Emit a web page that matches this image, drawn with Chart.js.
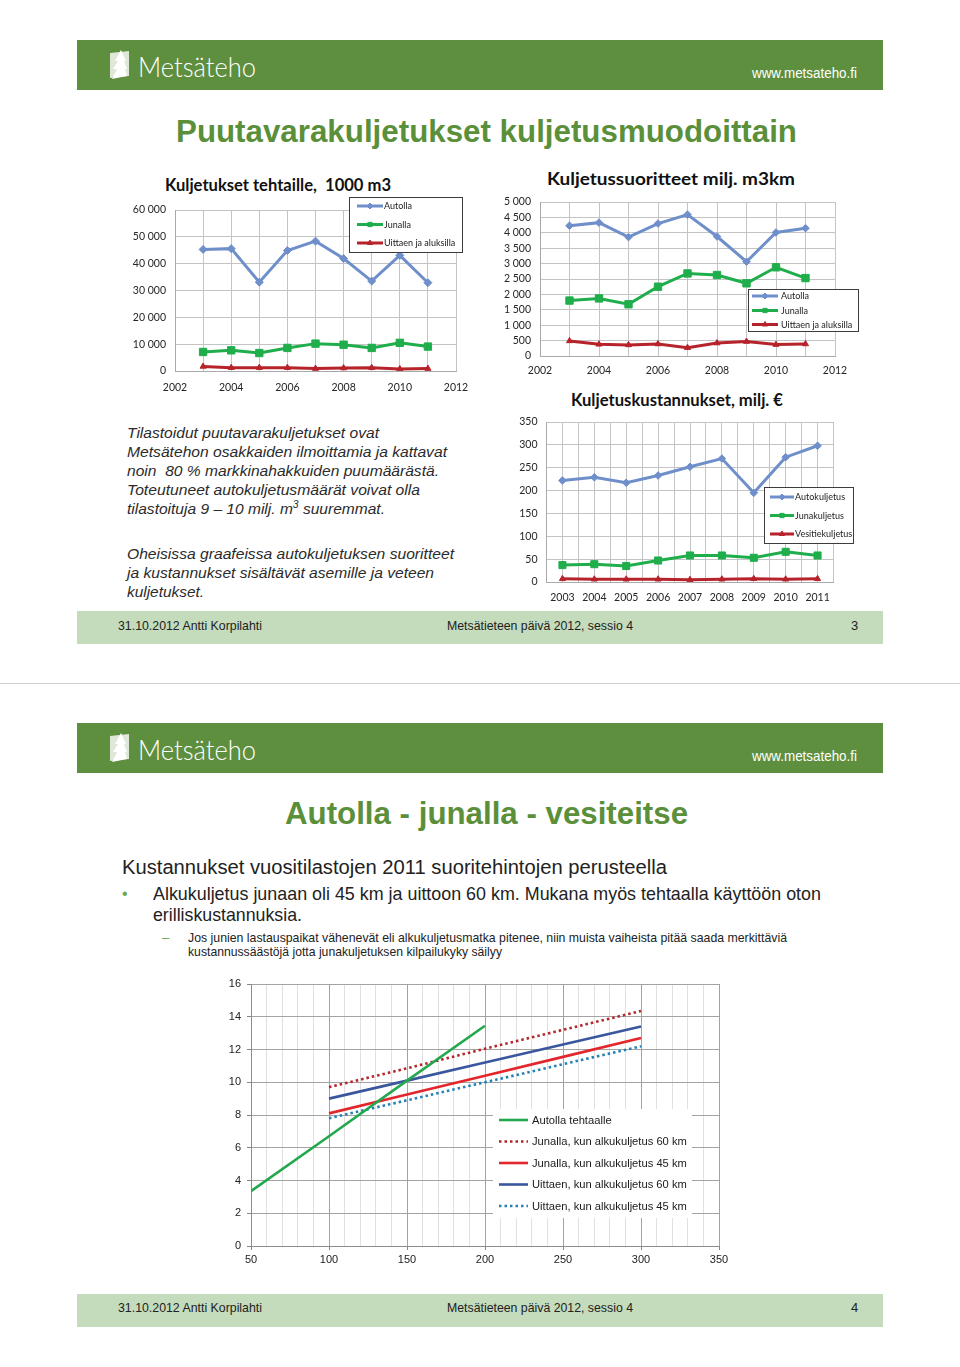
<!DOCTYPE html>
<html lang="fi">
<head>
<meta charset="utf-8">
<title>Puutavarakuljetukset kuljetusmuodoittain</title>
<script src="https://cdn.jsdelivr.net/npm/chart.js@4.4.1/dist/chart.umd.min.js"></script>
<style>
  html, body { margin: 0; padding: 0; background: #fff; }
  #page { position: relative; width: 960px; height: 1367px; overflow: hidden; font-family: "Liberation Sans", Arial, sans-serif; }
  .abs { position: absolute; }
  .t { position: absolute; white-space: nowrap; line-height: 1; transform-origin: 0 50%; }
  .hdr { position: absolute; left: 77px; width: 806px; height: 50px; background: #5e8f3f; }
  .ftr { position: absolute; left: 77px; width: 806px; height: 33px; background: #c4dbbc; }
  .narrow { font-family: "Liberation Sans Narrow", "Liberation Sans", Arial, sans-serif; }
  .url { color: #fff; font-size: 14px; }
  .logo { color: #fff; font-size: 28px; font-family: "Lato", "Liberation Sans", sans-serif; font-weight: 300; }
  .title { color: #5b8f3a; font-size: 31px; font-weight: bold; }
  .ctitle { font-family: "Lato", "Open Sans", sans-serif; font-weight: bold; font-size: 16.5px; color: #111; }
  .para { font-style: italic; font-size: 15px; color: #2b2b2b; }
  .foot { font-size: 13px; color: #222; }
  .sep { position: absolute; left: 0; width: 960px; height: 1px; background: #cfcfcf; }
  canvas { position: absolute; }
</style>
</head>
<body>
<div id="page">

  <!-- dia 3 -->
  <div class="hdr" style="top:40px"></div>
  <svg class="abs" style="left:107px;top:49px" width="26" height="31" viewBox="0 0 26 31">
    <polygon points="3,4 22,2 22,27 3,29" fill="#dfe7d9"/>
    <polygon points="14,1 8,12 11,12 6,20 10,20 5,30 20,27 18,20 20,20 17,12 19,12" fill="#ffffff"/>
  </svg>
  <div class="t logo" data-w="118" style="left:138px;top:52px">Metsäteho</div>
  <div class="t url narrow" data-w="105" style="left:752px;top:66px">www.metsateho.fi</div>
  <div class="t title" data-w="621" style="left:176px;top:115.5px">Puutavarakuljetukset kuljetusmuodoittain</div>

  <div class="t ctitle" data-w="226" style="left:165px;top:176.5px">Kuljetukset tehtaille,&nbsp; 1000 m3</div>
  <div class="t ctitle" data-w="248" style="left:547px;top:171px">Kuljetussuoritteet milj. m3km</div>
  <div class="t ctitle" data-w="212" style="left:571px;top:391.5px">Kuljetuskustannukset, milj. €</div>

  <canvas id="c1" style="left:120px;top:195px" width="360" height="205"></canvas>
  <canvas id="c2" style="left:490px;top:190px" width="375" height="190"></canvas>
  <canvas id="c3" style="left:500px;top:410px" width="360" height="200"></canvas>

  <div class="t para" data-w="252" style="left:127px;top:424.5px">Tilastoidut puutavarakuljetukset ovat</div>
  <div class="t para" data-w="320" style="left:127px;top:443.5px">Metsätehon osakkaiden ilmoittamia ja kattavat</div>
  <div class="t para" data-w="312" style="left:127px;top:462.5px">noin&nbsp; 80 % markkinahakkuiden puumäärästä.</div>
  <div class="t para" data-w="293" style="left:127px;top:481.5px">Toteutuneet autokuljetusmäärät voivat olla</div>
  <div class="t para" data-w="258" style="left:127px;top:500.5px">tilastoituja 9 – 10 milj. m<sup style="font-size:10px;line-height:0">3</sup> suuremmat.</div>
  <div class="t para" data-w="327" style="left:127px;top:545.5px">Oheisissa graafeissa autokuljetuksen suoritteet</div>
  <div class="t para" data-w="307" style="left:127px;top:564.5px">ja kustannukset sisältävät asemille ja veteen</div>
  <div class="t para" data-w="77" style="left:127px;top:583.5px">kuljetukset.</div>

  <div class="ftr" style="top:611px"></div>
  <div class="t foot narrow" data-w="144" style="left:118px;top:618.5px">31.10.2012 Antti Korpilahti</div>
  <div class="t foot narrow" data-w="186" style="left:447px;top:618.5px">Metsätieteen päivä 2012, sessio 4</div>
  <div class="t foot narrow" style="left:851px;top:618.5px">3</div>

  <div class="sep" style="top:683px"></div>

  <!-- dia 4 -->
  <div class="hdr" style="top:723px"></div>
  <svg class="abs" style="left:107px;top:732px" width="26" height="31" viewBox="0 0 26 31">
    <polygon points="3,4 22,2 22,27 3,29" fill="#dfe7d9"/>
    <polygon points="14,1 8,12 11,12 6,20 10,20 5,30 20,27 18,20 20,20 17,12 19,12" fill="#ffffff"/>
  </svg>
  <div class="t logo" data-w="118" style="left:138px;top:735px">Metsäteho</div>
  <div class="t url narrow" data-w="105" style="left:752px;top:749px">www.metsateho.fi</div>
  <div class="t title" data-w="403" style="left:285px;top:797.5px">Autolla - junalla - vesiteitse</div>

  <div class="t narrow" data-w="545" style="left:122px;top:857px;font-size:20px;color:#222">Kustannukset vuositilastojen 2011 suoritehintojen perusteella</div>
  <div class="t" style="left:122px;top:886px;font-size:16px;color:#6aa84f">•</div>
  <div class="t narrow" data-w="668" style="left:153px;top:885px;font-size:18.5px;color:#222">Alkukuljetus junaan oli 45 km ja uittoon 60 km. Mukana myös tehtaalla käyttöön oton</div>
  <div class="t narrow" data-w="149" style="left:153px;top:906px;font-size:18.5px;color:#222">erilliskustannuksia.</div>
  <div class="t" style="left:162px;top:930.5px;font-size:13px;color:#6aa84f">–</div>
  <div class="t narrow" data-w="599" style="left:188px;top:930.5px;font-size:13px;color:#222">Jos junien lastauspaikat vähenevät eli alkukuljetusmatka pitenee, niin muista vaiheista pitää saada merkittäviä</div>
  <div class="t narrow" data-w="314" style="left:188px;top:944.5px;font-size:13px;color:#222">kustannussäästöjä jotta junakuljetuksen kilpailukyky säilyy</div>

  <canvas id="c4" style="left:215px;top:975px" width="520" height="295"></canvas>

  <div class="ftr" style="top:1294px"></div>
  <div class="t foot narrow" data-w="144" style="left:118px;top:1300.5px">31.10.2012 Antti Korpilahti</div>
  <div class="t foot narrow" data-w="186" style="left:447px;top:1300.5px">Metsätieteen päivä 2012, sessio 4</div>
  <div class="t foot narrow" style="left:851px;top:1300.5px">4</div>
</div>

<script>
// --- data ---
const years = [2003, 2004, 2005, 2006, 2007, 2008, 2009, 2010, 2011];

// Kuljetukset tehtaille, 1000 m3
const tehtailleAutolla = [45300, 45600, 33100, 44900, 48400, 41900, 33500, 43100, 32900];
const tehtailleJunalla = [7100, 7700, 6700, 8600, 10200, 9800, 8600, 10500, 9100];
const tehtailleUittaen = [1700, 1250, 1250, 1250, 900, 1100, 1200, 750, 900];

// Kuljetussuoritteet milj. m3km
const suoritteetAutolla = [4230, 4330, 3860, 4300, 4590, 3880, 3060, 4010, 4150];
const suoritteetJunalla = [1800, 1870, 1680, 2250, 2680, 2630, 2360, 2880, 2530];
const suoritteetUittaen = [490, 380, 360, 390, 270, 420, 470, 370, 390];

// Kuljetuskustannukset, milj. €
const kustannusAuto = [222, 229, 217, 233, 252, 270, 195, 273, 298];
const kustannusJuna = [37, 39, 35, 47, 58, 58, 53, 66, 58];
const kustannusVesi = [7, 6, 6, 6, 5, 6, 7, 6, 7];

// Autolla - junalla - vesiteitse (km -> €/m3)
const autoKm = [50, 100, 150, 200];
const autoTehtaalle = [3.35, 6.7, 10.1, 13.45];
const rataKm = [100, 150, 200, 250, 300];
const junalla60 = [9.7, 10.85, 12.05, 13.2, 14.35];
const junalla45 = [8.1, 9.25, 10.4, 11.55, 12.7];
const uittaen60 = [9.0, 10.1, 11.2, 12.3, 13.4];
const uittaen45 = [7.8, 8.9, 10.0, 11.1, 12.2];

// --- värit ---
const BLUE = "#6f8fcb", GREEN = "#1fae4b", RED = "#b7232b";
const CAL = "Lato, 'Open Sans', sans-serif";

function spaced(v) {
  return String(v).replace(/\B(?=(\d{3})+(?!\d))/g, " ");
}

function xy(xs, ys) {
  return xs.map((x, i) => ({ x: x, y: ys[i] }));
}

function series(label, xs, ys, color, style, r) {
  return {
    label: label, data: xy(xs, ys),
    borderColor: color, backgroundColor: color,
    borderWidth: 3, pointStyle: style, pointRadius: r, pointHoverRadius: r,
    pointBorderWidth: 1, tension: 0
  };
}

// legenda laatikossa piirtoalueen sisällä
const boxLegend = {
  id: "boxLegend",
  afterDraw(chart, args, o) {
    if (!o || !o.box) return;
    const ctx = chart.ctx, b = o.box;
    ctx.save();
    ctx.fillStyle = "#fff";
    ctx.fillRect(b.x, b.y, b.w, b.h);
    if (o.border) {
      ctx.strokeStyle = o.border;
      ctx.lineWidth = 1;
      ctx.strokeRect(b.x + 0.5, b.y + 0.5, b.w - 1, b.h - 1);
    }
    chart.data.datasets.forEach((ds, i) => {
      const y = o.rows[i];
      ctx.setLineDash(ds.borderDash || []);
      ctx.strokeStyle = ds.borderColor;
      ctx.lineWidth = o.lineWidth || ds.borderWidth;
      ctx.beginPath();
      ctx.moveTo(o.lineX, y);
      ctx.lineTo(o.lineX + o.lineW, y);
      ctx.stroke();
      ctx.setLineDash([]);
      if (ds.pointRadius) {
        ctx.fillStyle = ds.backgroundColor;
        ctx.lineWidth = 1;
        Chart.helpers.drawPoint(ctx, { pointStyle: ds.pointStyle, radius: o.markR, borderWidth: 1, rotation: 0 }, o.lineX + o.lineW / 2, y);
      }
      ctx.fillStyle = o.color || "#222";
      ctx.font = o.font;
      ctx.textBaseline = "middle";
      ctx.fillText(ds.label, o.textX, y + 0.5);
    });
    ctx.restore();
  }
};
Chart.register(boxLegend);

function fixScale(w, h) {
  return function (s) {
    if (w != null) s.width = w;
    if (h != null) s.height = h;
    s.paddingLeft = 0; s.paddingRight = 0; s.paddingTop = 0; s.paddingBottom = 0;
  };
}

function yearChart(id, ds, opts) {
  const ox = opts.ox, oy = opts.oy;
  return new Chart(document.getElementById(id), {
    type: "line",
    data: { datasets: ds },
    options: {
      responsive: false, animation: false,
      layout: { padding: opts.pad },
      plugins: {
        legend: { display: false }, tooltip: { enabled: false },
        boxLegend: {
          box: { x: opts.lg.x - ox, y: opts.lg.y - oy, w: opts.lg.w, h: opts.lg.h },
          border: "#3c3c3c", rows: opts.lg.rows.map(r => r - oy),
          lineX: opts.lg.lineX - ox, lineW: opts.lg.lineW, textX: opts.lg.textX - ox,
          markR: 3, lineWidth: 3, font: "9px " + CAL, color: "#222"
        }
      },
      scales: {
        x: {
          type: "linear", min: opts.xmin, max: opts.xmax,
          ticks: {
            stepSize: opts.xstep, autoSkip: false, maxRotation: 0, padding: opts.xpad,
            font: { family: CAL, size: 10.5 }, color: "#262626",
            callback: opts.xlabel
          },
          grid: { color: "#c4c4c4", drawTicks: false, lineWidth: 1 },
          border: { color: "#a9a9a9" },
          afterFit: fixScale(null, opts.xh)
        },
        y: {
          min: 0, max: opts.ymax,
          ticks: {
            stepSize: opts.ystep, padding: 9, autoSkip: false,
            font: { family: CAL, size: 10.5 }, color: "#262626",
            callback: v => spaced(v)
          },
          grid: { color: "#c4c4c4", drawTicks: false, lineWidth: 1 },
          border: { color: "#a9a9a9" },
          afterFit: fixScale(opts.yw, null)
        }
      }
    }
  });
}

function draw() {
  // Kuljetukset tehtaille
  yearChart("c1", [
    series("Autolla", years, tehtailleAutolla, BLUE, "rectRot", 4),
    series("Junalla", years, tehtailleJunalla, GREEN, "rect", 5.2),
    series("Uittaen ja aluksilla", years, tehtailleUittaen, RED, "triangle", 3.5)
  ], {
    ox: 120, oy: 195, pad: { left: 0, top: 15, right: 24, bottom: 0 }, yw: 55, xh: 29,
    xmin: 2002, xmax: 2012, xstep: 1, xpad: 10, xlabel: v => (v % 2 === 0 ? v : ""),
    ymax: 60000, ystep: 10000,
    lg: { x: 349, y: 197, w: 114, h: 56, rows: [206, 224.5, 243], lineX: 357, lineW: 26, textX: 384 }
  });

  // Kuljetussuoritteet
  yearChart("c2", [
    series("Autolla", years, suoritteetAutolla, BLUE, "rectRot", 3.8),
    series("Junalla", years, suoritteetJunalla, GREEN, "rect", 5.2),
    series("Uittaen ja aluksilla", years, suoritteetUittaen, RED, "triangle", 3.5)
  ], {
    ox: 490, oy: 190, pad: { left: 0, top: 12, right: 30, bottom: 0 }, yw: 50, xh: 24,
    xmin: 2002, xmax: 2012, xstep: 1, xpad: 8, xlabel: v => (v % 2 === 0 ? v : ""),
    ymax: 5000, ystep: 500,
    lg: { x: 748, y: 289, w: 111, h: 43, rows: [296, 310.5, 324.5], lineX: 752, lineW: 26, textX: 781 }
  });

  // Kuljetuskustannukset
  yearChart("c3", [
    series("Autokuljetus", years, kustannusAuto, BLUE, "rectRot", 3.8),
    series("Junakuljetus", years, kustannusJuna, GREEN, "rect", 5),
    series("Vesitiekuljetus", years, kustannusVesi, RED, "triangle", 3.5)
  ], {
    ox: 500, oy: 410, pad: { left: 0, top: 12, right: 26.5, bottom: 0 }, yw: 46.5, xh: 28,
    xmin: 2002.5, xmax: 2011.5, xstep: 0.5, xpad: 9, xlabel: v => (Number.isInteger(v) ? v : ""),
    ymax: 350, ystep: 50,
    lg: { x: 764, y: 487, w: 90, h: 57, rows: [497, 515.5, 534], lineX: 770, lineW: 24, textX: 795 }
  });

  // Autolla - junalla - vesiteitse
  const ARIAL = "'Liberation Sans', Arial, sans-serif";
  const line = (label, xs, ys, color, dash) => ({
    label: label, data: xy(xs, ys), borderColor: color, backgroundColor: color,
    borderWidth: 2.6, borderDash: dash, pointRadius: 0, tension: 0
  });
  new Chart(document.getElementById("c4"), {
    type: "line",
    data: {
      datasets: [
        line("Autolla tehtaalle", autoKm, autoTehtaalle, "#23a84e", []),
        line("Junalla, kun alkukuljetus 60 km", rataKm, junalla60, "#b3262b", [2.5, 3]),
        line("Junalla, kun alkukuljetus 45 km", rataKm, junalla45, "#e3262b", []),
        line("Uittaen, kun alkukuljetus 60 km", rataKm, uittaen60, "#3a579e", []),
        line("Uittaen, kun alkukuljetus 45 km", rataKm, uittaen45, "#2580b8", [2.5, 3])
      ]
    },
    options: {
      responsive: false, animation: false,
      layout: { padding: { left: 0, top: 9, right: 16, bottom: 0 } },
      plugins: {
        legend: { display: false }, tooltip: { enabled: false },
        boxLegend: {
          box: { x: 493 - 215, y: 1109 - 975, w: 199, h: 109 },
          rows: [1120, 1141.5, 1163, 1184.5, 1206].map(r => r - 975),
          lineX: 499 - 215, lineW: 29, textX: 532 - 215,
          lineWidth: 2.6, font: "11.2px " + ARIAL, color: "#1a1a1a"
        }
      },
      scales: {
        x: {
          type: "linear", min: 50, max: 350,
          ticks: {
            stepSize: 10, autoSkip: false, maxRotation: 0, padding: 3,
            font: { family: ARIAL, size: 11 }, color: "#222",
            callback: v => (v % 50 === 0 ? v : "")
          },
          grid: {
            color: c => (c.tick && c.tick.value % 50 === 0 ? "#a3a3a3" : "#e0e0e0"),
            tickColor: c => (c.tick && c.tick.value % 50 === 0 ? "#888" : "rgba(0,0,0,0)"),
            tickLength: 4, lineWidth: 1
          },
          border: { color: "#8c8c8c" },
          afterFit: fixScale(null, 24)
        },
        y: {
          min: 0, max: 16,
          ticks: { stepSize: 2, padding: 6, autoSkip: false, font: { family: ARIAL, size: 11 }, color: "#222" },
          grid: { color: "#a3a3a3", tickColor: "#888", tickLength: 4, lineWidth: 1 },
          border: { color: "#8c8c8c" },
          afterFit: fixScale(36, null)
        }
      }
    }
  });
}

// tekstirivien leveys kuvan mukaan
function fitText() {
  document.querySelectorAll("[data-w]").forEach(el => {
    const target = +el.dataset.w;
    const w = el.getBoundingClientRect().width;
    if (w > 0) el.style.transform = "scaleX(" + (target / w).toFixed(4) + ")";
  });
}

(document.fonts ? document.fonts.ready : Promise.resolve()).then(() => {
  fitText();
  draw();
});
</script>
</body>
</html>
